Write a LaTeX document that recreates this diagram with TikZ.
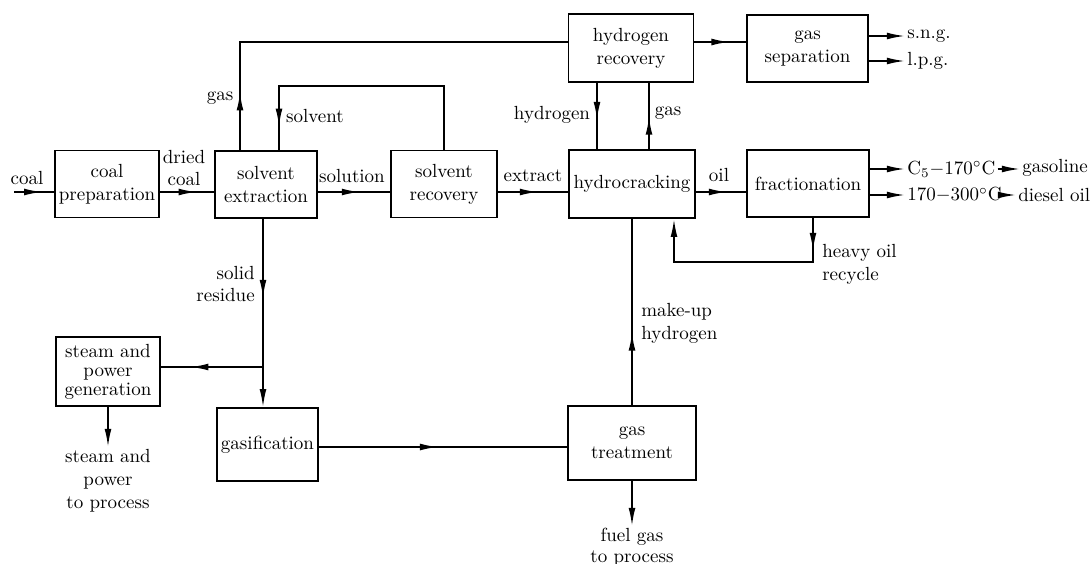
\documentclass[tikz,border=0pt]{standalone}
\usetikzlibrary{arrows.meta,decorations.markings}
\tikzset{
  flow/.tip={Latex[length=9.5pt,width=3.6pt]},
  unit/.style={draw, line width=0.9pt, align=center, inner sep=1pt,
    minimum width=1.92cm, minimum height=1.24cm},
  line/.style={line width=0.9pt},
  midflow/.style={postaction={decorate},
    decoration={markings, mark=at position #1 with {\arrow{flow}}}},
  midflow/.default=0.5,
  lbl/.style={align=center, inner sep=1pt},
}

\begin{document}
\begin{tikzpicture}[x=0.0185cm, y=-0.0185cm]
\useasboundingbox (0,0) rectangle (1092,564);

% process units
\node[unit] (coalprep) at (107,184) {coal\\preparation};
\node[unit, minimum width=1.89cm] (solvext) at (266,184.5) {solvent\\extraction};
\node[unit, minimum width=1.96cm] (solvrec) at (444,184) {solvent\\recovery};
\node[unit, minimum width=2.33cm, minimum height=1.26cm] (hcrack) at (632,184) {hydrocracking};
\node[unit, minimum width=2.31cm, minimum height=1.26cm] (h2rec) at (631,48) {hydrogen\\recovery};
\node[unit, minimum width=2.24cm] (gassep) at (807.5,48.5) {gas\\separation};
\node[unit, minimum width=2.26cm] (fraction) at (808,183.5) {fractionation};
\node[unit, minimum height=1.28cm] (steam) at (108,371.5) {steam and\\[-2pt]power\\[-2pt]generation};
\node[unit, minimum width=1.87cm, minimum height=1.35cm] (gasif) at (267.5,444.5) {gasification};
\node[unit, minimum width=2.37cm, minimum height=1.37cm] (gastreat) at (632,443) {gas\\treatment};

% stream labels
\node[lbl] (coallbl) at (27,178) {coal};
\node[lbl] (driedlbl) at (184,168) {dried\\coal};
\node[lbl] (solnlbl) at (352,176) {solution};
\node[lbl] (extrlbl) at (533,176) {extract};
\node[lbl] (oillbl) at (719,175) {oil};
\node[lbl] (gaslbl) at (220,98) {gas};
\node[lbl] (solvlbl) at (315,116) {solvent};
\node[lbl] (h2lbl) at (552,115) {hydrogen};
\node[lbl] (gasretlbl) at (668,113) {gas};
\node[lbl, align=left, anchor=west] (heavylbl) at (820,264) {heavy oil\\recycle};
\node[lbl, align=right, anchor=east] (residlbl) at (257,284) {solid\\residue};
\node[lbl, align=left, anchor=west] (makeuplbl) at (639,323) {make-up\\hydrogen};

% products
\node[lbl, anchor=west] (sng) at (905,36) {s.n.g.};
\node[lbl, anchor=west] (lpg) at (905,61) {l.p.g.};
\node[lbl, anchor=west] (cut1) at (905,169) {C$_5{-}170^{\circ}$C};
\node[lbl, anchor=west] (gasoline) at (1020,168) {gasoline};
\node[lbl, anchor=west] (cut2) at (905,195) {$170{-}300^{\circ}$C};
\node[lbl, anchor=west] (diesel) at (1016,195) {diesel oil};
\node[lbl, anchor=north] (steamout) at (108,447) {steam and\\power\\to process};
\node[lbl, anchor=north] (fuelout) at (632,526) {fuel gas\\[-1pt]to process};

\coordinate (feed) at (14,192);
\coordinate (gasup) at (240,42);
\coordinate (solvtop) at (279,86);
\coordinate (h2down) at (597,0);
\coordinate (gasback) at (649,0);
\coordinate (recycr) at (813,262);
\coordinate (recycl) at (674,262);
\coordinate (resid) at (263,367);
\coordinate (syngas) at (0,447);

% main line
\draw[line, midflow=0.7] (feed) -- (feed -| coalprep.west);
\draw[line, midflow=0.68] (coalprep.east |- feed) -- (solvext.west |- feed);
\draw[line, midflow=0.58] (solvext.east |- feed) -- (solvrec.west |- feed);
\draw[line, midflow=0.57] (solvrec.east |- feed) -- (hcrack.west |- feed);
\draw[line, midflow=0.62] (hcrack.east |- feed) -- (fraction.west |- feed);

% gas and solvent loops
\draw[line, midflow=1.07cm] (solvext.north -| gasup) -- (gasup) -- (h2rec.west |- gasup);
\draw[line, midflow=0.92] (solvrec.north) -- (solvrec.north |- solvtop) -- (solvtop) -- (solvext.north -| solvtop);
\draw[line, midflow=0.56] (h2rec.south -| h2down) -- (hcrack.north -| h2down);
\draw[line, midflow=0.49] (hcrack.north -| gasback) -- (h2rec.south -| gasback);
\draw[line, midflow=0.68] (h2rec.east |- gasup) -- (gassep.west |- gasup);
\draw[line, -{flow}] (gassep.east |- sng) -- (sng.west);
\draw[line, -{flow}] (gassep.east |- lpg) -- (lpg.west);

% products and recycle
\draw[line, -{flow}] (fraction.east |- cut1) -- (cut1.west);
\draw[line, -{flow}] (fraction.east |- cut2) -- (cut2.west);
\draw[line, -{flow}] (cut1.east) -- (gasoline.west |- cut1.east);
\draw[line, -{flow}] (cut2.east) -- (diesel.west);
\draw[line, midflow=0.61cm, -{flow}] (fraction.south -| recycr) -- (recycr) -- (recycl) -- (hcrack.south -| recycl);

% residue side
\draw[line, midflow=0.42, -{flow}] (solvext.south -| resid) -- (gasif.north -| resid);
\draw[line, midflow=0.71] (resid) -- (steam.east |- resid);
\draw[line, -{flow}] (steam.south) -- (steamout.north);
\draw[line, midflow=0.48] (gasif.east |- syngas) -- (gastreat.west |- syngas);
\draw[line, midflow=0.39] (gastreat.north) -- (hcrack.south);
\draw[line, -{flow}] (gastreat.south) -- (fuelout.north);
\end{tikzpicture}
\end{document}
